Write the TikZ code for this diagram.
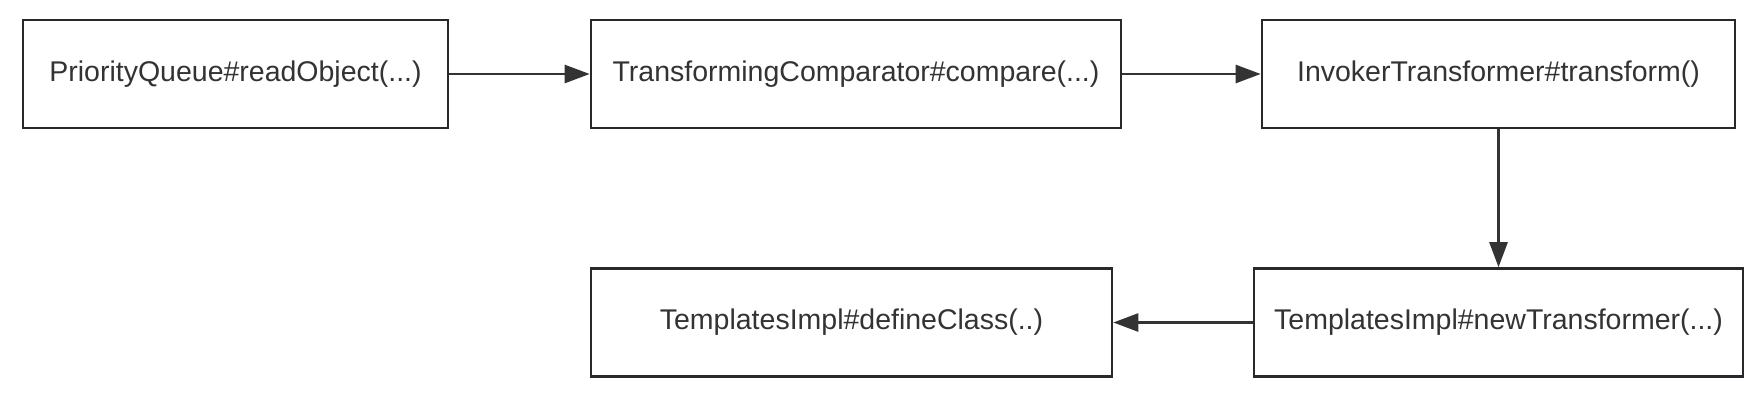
\documentclass[tikz,border=0pt]{standalone}
\usepackage{fontspec}
\setmainfont{Liberation Sans}
\usetikzlibrary{arrows.meta}
\definecolor{B1}{RGB}{38,42,46}
\definecolor{A1}{RGB}{51,51,51}
\tikzset{
  callbox/.style={draw=B1, line width=2.6pt, fill=white, inner sep=0pt,
    minimum height=108pt, text=A1, font=\fontsize{28.5}{32}\selectfont},
  callarrow/.style={A1, line width=2.6pt, -{Triangle[length=25pt,width=18pt]}}
}
\begin{document}
\begin{tikzpicture}[x=1pt, y=-1pt]
      \useasboundingbox (0,0) rectangle (1760,400);
      \node[callbox, minimum width=425pt] (readobj) at (235.5, 74) {PriorityQueue\#readObject(...)};
      \node[callbox, minimum width=530pt] (compare) at (856, 74) {TransformingComparator\#compare(...)};
      \node[callbox, minimum width=473pt] (transform) at (1498.5, 74) {InvokerTransformer\#transform()};
      \node[callbox, minimum width=489pt] (newtrans) at (1498.5, 322.5) {TemplatesImpl\#newTransformer(...)};
      \node[callbox, minimum width=521pt] (defclass) at (851.5, 322.5) {TemplatesImpl\#defineClass(..)};
      \draw[callarrow] (readobj) -- (compare);
      \draw[callarrow] (compare) -- (transform);
      \draw[callarrow] (transform) -- (newtrans);
      \draw[callarrow] (newtrans) -- (defclass);
    \end{tikzpicture}
\end{document}
